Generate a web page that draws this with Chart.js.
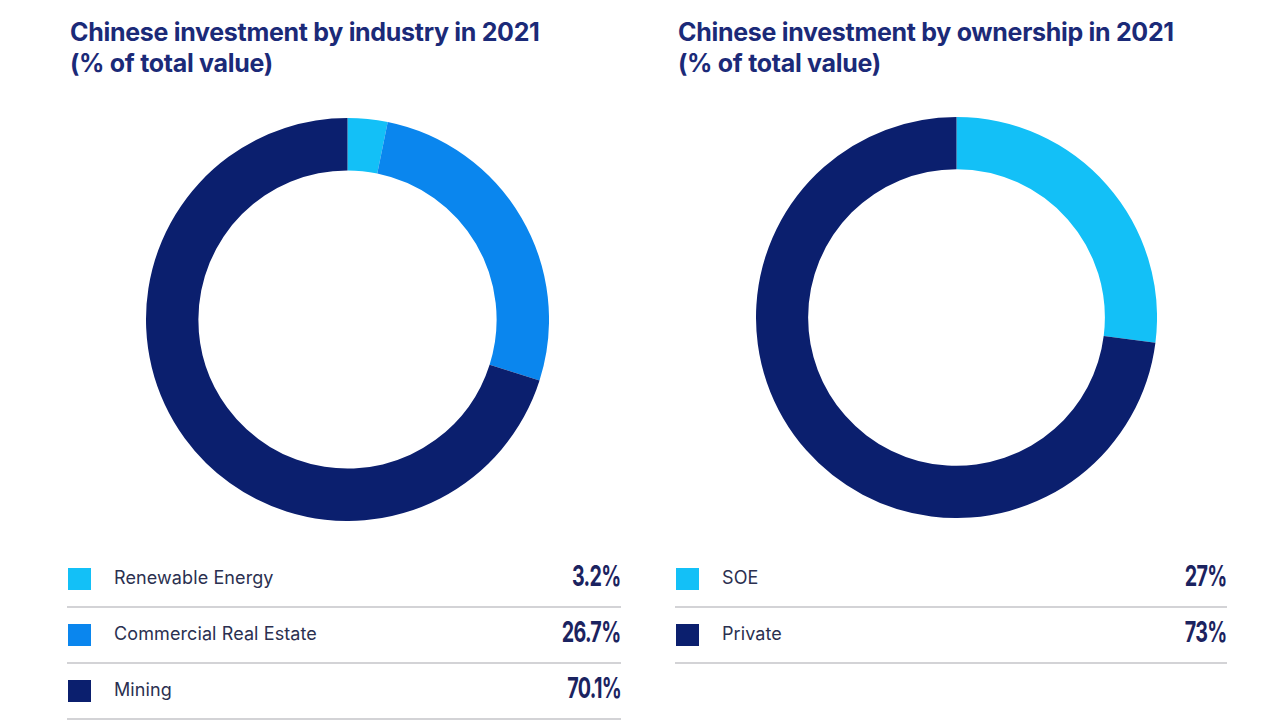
<!DOCTYPE html>
<html>
<head>
<meta charset="utf-8">
<script src="https://cdn.jsdelivr.net/npm/chart.js@4.4.1/dist/chart.umd.min.js"></script>
<style>
  html, body { margin:0; padding:0; background:#fff; width:1279px; height:720px; overflow:hidden; }
  .title { position:absolute; font-family:Inter, Roboto, sans-serif; font-weight:700; font-size:25px; line-height:31px; color:#1b2a78; letter-spacing:-0.3px; }
  .chartbox { position:absolute; }
  .legend { position:absolute; }
  .row { position:relative; height:56px; border-bottom:2px solid #d3d3d6; box-sizing:border-box; }
  .sw { position:absolute; left:1px; top:16px; width:23px; height:22px; }
  .lab { position:absolute; left:47px; top:15px; font-family:Inter, Roboto, sans-serif; font-size:18px; color:#2b3050; letter-spacing:0.1px; }
  .val { position:absolute; right:0; top:6px; font-family:Inter, Roboto, sans-serif; font-weight:700; font-size:29px; color:#1b2360; letter-spacing:-1px; transform:scaleX(0.68); transform-origin:right center; }
</style>
</head>
<body>
<div class="title" style="left:70px; top:17px;">Chinese investment by industry in 2021<br>(% of total value)</div>
<div class="title" style="left:678px; top:17px;">Chinese investment by ownership in 2021<br>(% of total value)</div>

<div class="chartbox" style="left:146px; top:118px; width:403px; height:403px;"><canvas id="c1" width="403" height="403"></canvas></div>
<div class="chartbox" style="left:756px; top:117px; width:401px; height:401px;"><canvas id="c2" width="401" height="401"></canvas></div>

<div class="legend" id="leg1" style="left:67px; top:552px; width:554px;"></div>
<div class="legend" id="leg2" style="left:675px; top:552px; width:552px;"></div>

<script>
const industryLabels = ["Renewable Energy", "Commercial Real Estate", "Mining"];
const industryValues = [3.2, 26.7, 70.1];
const industryColors = ["#13c0f7", "#0a86ee", "#0b1f6e"];

const ownershipLabels = ["SOE", "Private"];
const ownershipValues = [27, 73];
const ownershipColors = ["#13c0f7", "#0b1f6e"];

function makeDoughnut(id, labels, values, colors) {
  new Chart(document.getElementById(id), {
    type: 'doughnut',
    data: { labels: labels, datasets: [{ data: values, backgroundColor: colors, borderWidth: 0 }] },
    options: {
      responsive: false,
      animation: false,
      cutout: '74%',
      rotation: 0,
      layout: { padding: 0 },
      plugins: { legend: { display: false }, tooltip: { enabled: false } }
    }
  });
}
makeDoughnut('c1', industryLabels, industryValues, industryColors);
makeDoughnut('c2', ownershipLabels, ownershipValues, ownershipColors);

function makeLegend(id, labels, values, colors) {
  const el = document.getElementById(id);
  labels.forEach((l, i) => {
    const row = document.createElement('div');
    row.className = 'row';
    row.innerHTML = '<div class="sw" style="background:' + colors[i] + '"></div>' +
      '<div class="lab"></div><div class="val"></div>';
    row.querySelector('.lab').textContent = l;
    row.querySelector('.val').textContent = values[i] + '%';
    el.appendChild(row);
  });
}
makeLegend('leg1', industryLabels, industryValues, industryColors);
makeLegend('leg2', ownershipLabels, ownershipValues, ownershipColors);
</script>
</body>
</html>
